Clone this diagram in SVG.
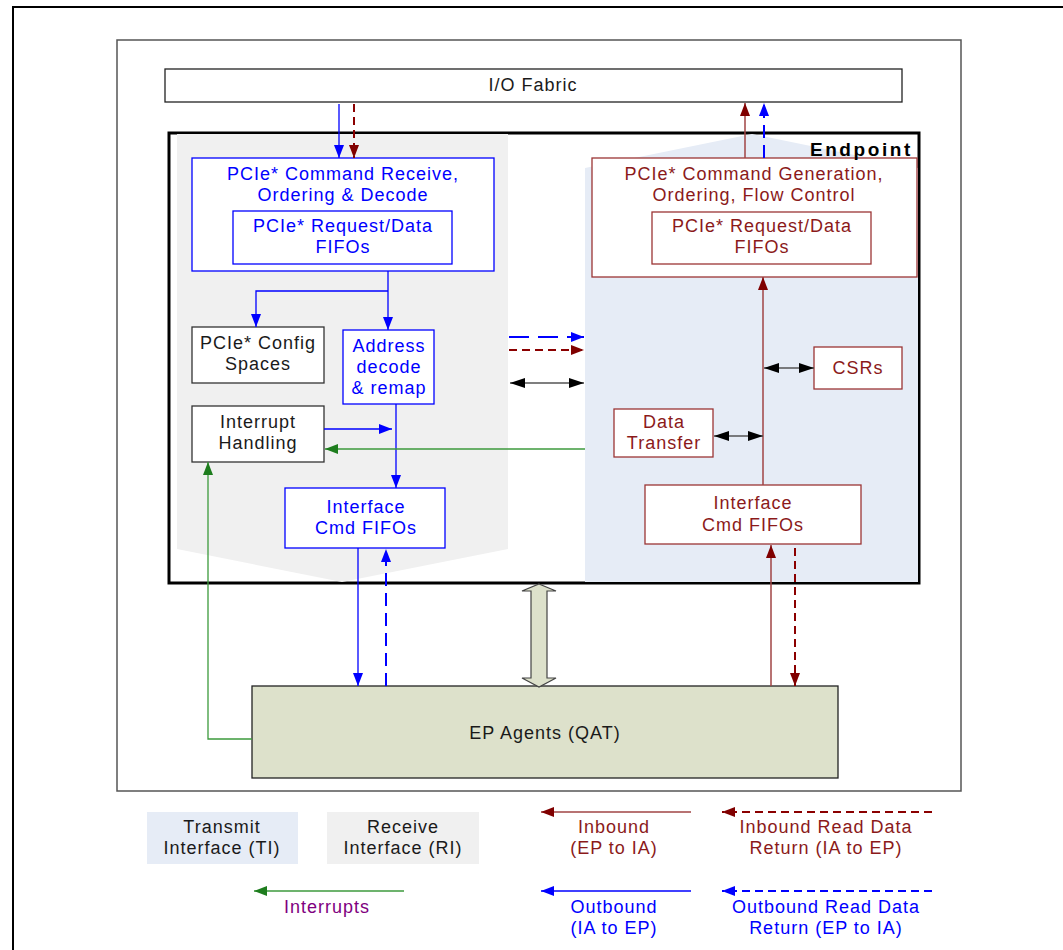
<svg xmlns="http://www.w3.org/2000/svg" width="1063" height="950" viewBox="0 0 1063 950">
<defs>
<style>
text{font-family:"Liberation Sans",Arial,sans-serif;font-size:18px;letter-spacing:1px;text-anchor:middle}
.tb{fill:#0000ff}.tr{fill:#8b1a1a}.tk{fill:#1a1a1a}.tp{fill:#800080}
.bb{fill:#fff;stroke:#0000ff;stroke-width:1.3}
.br{fill:#fff;stroke:#9b3535;stroke-width:1.3}
.bk{fill:#fff;stroke:#333;stroke-width:1.3}
.lb{fill:none;stroke:#0000ff;stroke-width:1.3}
.lbd{fill:none;stroke:#0000ff;stroke-width:2;stroke-dasharray:13 7}
.lr{fill:none;stroke:#a04545;stroke-width:1.5}
.lrd{fill:none;stroke:#8b0000;stroke-width:2;stroke-dasharray:8 5}
.lg{fill:none;stroke:#3c9a3c;stroke-width:1.3}
.lk{fill:none;stroke:#555;stroke-width:1.5}
</style>
<marker id="ab" markerUnits="userSpaceOnUse" markerWidth="13" markerHeight="10" refX="13" refY="5" orient="auto"><path d="M0,0L13,5L0,10z" fill="#0000ff"/></marker>
<marker id="ar" markerUnits="userSpaceOnUse" markerWidth="13" markerHeight="10" refX="13" refY="5" orient="auto"><path d="M0,0L13,5L0,10z" fill="#800000"/></marker>
<marker id="ag" markerUnits="userSpaceOnUse" markerWidth="13" markerHeight="10" refX="13" refY="5" orient="auto"><path d="M0,0L13,5L0,10z" fill="#1e7d1e"/></marker>
<marker id="ak" markerUnits="userSpaceOnUse" markerWidth="15" markerHeight="10" refX="15" refY="5" orient="auto-start-reverse"><path d="M0,0L15,5L0,10z" fill="#000"/></marker>
</defs>
<rect width="1063" height="950" fill="#fff"/>
<rect x="13" y="7" width="1070" height="960" fill="none" stroke="#000" stroke-width="2"/>
<rect x="117" y="40" width="844" height="751" fill="#fff" stroke="#555" stroke-width="1.5"/>

<g id="io-fabric"><rect x="165" y="69" width="737" height="33" fill="#fff" stroke="#222" stroke-width="1.3"/><text x="533" y="91" class="tk">I/O Fabric</text></g>

<g id="endpoint">
<rect x="169" y="133" width="750" height="450" fill="#fff" stroke="#000" stroke-width="3"/>
<polygon points="177,134 508,134 508,549 342,582 177,549" fill="#f0f0f0"/>
<polygon points="585,168 752,134 918,168 918,582 585,582" fill="#e6ecf6"/>
</g>

<g id="rx-cmd"><rect x="192" y="158" width="302" height="113" class="bb"/><text x="343" y="180" class="tb">PCIe* Command Receive,</text><text x="343" y="201" class="tb">Ordering &amp; Decode</text>
<rect x="233" y="211" width="219" height="53" class="bb"/><text x="343" y="232" class="tb">PCIe* Request/Data</text><text x="343" y="253" class="tb">FIFOs</text></g>

<g id="tx-cmd"><rect x="592" y="158" width="325" height="119" class="br"/><text x="754" y="180" class="tr">PCIe* Command Generation,</text><text x="754" y="201" class="tr">Ordering, Flow Control</text>
<rect x="652" y="212" width="219" height="52" class="br"/><text x="762" y="232" class="tr">PCIe* Request/Data</text><text x="762" y="253" class="tr">FIFOs</text></g>

<g id="endpoint-label"><text x="913" y="156" class="tk" style="text-anchor:end;font-weight:bold;font-size:19px;letter-spacing:2.6px;fill:#000">Endpoint</text></g>

<g id="config"><rect x="192" y="327" width="132" height="56" class="bk"/><text x="258" y="349" class="tk">PCIe* Config</text><text x="258" y="370" class="tk">Spaces</text></g>
<g id="addr"><rect x="343" y="330" width="91" height="74" class="bb"/><text x="389" y="352" class="tb">Address</text><text x="389" y="373" class="tb">decode</text><text x="389" y="394" class="tb">&amp; remap</text></g>
<g id="interrupt"><rect x="192" y="406" width="132" height="56" class="bk"/><text x="258" y="428" class="tk">Interrupt</text><text x="258" y="449" class="tk">Handling</text></g>
<g id="rx-fifo"><rect x="285" y="488" width="160" height="60" class="bb"/><text x="366" y="513" class="tb">Interface</text><text x="366" y="534" class="tb">Cmd FIFOs</text></g>
<g id="csrs"><rect x="814" y="347" width="88" height="42" class="br"/><text x="858" y="374" class="tr">CSRs</text></g>
<g id="data-transfer"><rect x="614" y="409" width="99" height="48" class="br"/><text x="664" y="428" class="tr">Data</text><text x="664" y="449" class="tr">Transfer</text></g>
<g id="tx-fifo"><rect x="645" y="485" width="216" height="59" class="br"/><text x="753" y="509" class="tr">Interface</text><text x="753" y="531" class="tr">Cmd FIFOs</text></g>
<g id="ep-agents"><rect x="252" y="686" width="586" height="92" fill="#dde1cb" stroke="#222" stroke-width="1.3"/><text x="545" y="739" class="tk">EP Agents (QAT)</text></g>

<g id="connectors">
<line x1="339" y1="104" x2="339" y2="158" class="lb" marker-end="url(#ab)"/>
<line x1="354" y1="104" x2="354" y2="158" class="lrd" marker-end="url(#ar)"/>
<line x1="745" y1="158" x2="745" y2="103" class="lr" marker-end="url(#ar)"/>
<line x1="764" y1="158" x2="764" y2="103" class="lbd" marker-end="url(#ab)"/>
<line x1="388" y1="271" x2="388" y2="330" class="lb" marker-end="url(#ab)"/>
<polyline points="388,291 256,291 256,327" class="lb" marker-end="url(#ab)"/>
<line x1="324" y1="429" x2="392" y2="429" class="lb" marker-end="url(#ab)"/>
<line x1="396" y1="404" x2="396" y2="488" class="lb" marker-end="url(#ab)"/>
<line x1="585" y1="449" x2="325" y2="449" class="lg" marker-end="url(#ag)"/>
<polyline points="252,739 208,739 208,462" class="lg" marker-end="url(#ag)"/>
<line x1="358" y1="548" x2="358" y2="686" class="lb" marker-end="url(#ab)"/>
<line x1="386" y1="686" x2="386" y2="549" class="lbd" marker-end="url(#ab)"/>
<line x1="771" y1="686" x2="771" y2="545" class="lr" marker-end="url(#ar)"/>
<line x1="795" y1="548" x2="795" y2="686" class="lrd" marker-end="url(#ar)"/>
<line x1="763" y1="485" x2="763" y2="277" class="lr" marker-end="url(#ar)"/>
<line x1="764" y1="368" x2="814" y2="368" class="lk" marker-start="url(#ak)" marker-end="url(#ak)"/>
<line x1="714" y1="436" x2="763" y2="436" class="lk" marker-start="url(#ak)" marker-end="url(#ak)"/>
<line x1="509" y1="337" x2="584" y2="337" class="lb" style="stroke-width:2;stroke-dasharray:20 9" marker-end="url(#ab)"/>
<line x1="509" y1="350" x2="584" y2="350" class="lrd" marker-end="url(#ar)"/>
<line x1="510" y1="383" x2="584" y2="383" class="lk" marker-start="url(#ak)" marker-end="url(#ak)"/>
<polygon points="539,584 556,591 547,591 547,678 556,678 539,687 522,678 531,678 531,591 522,591" fill="#dde1cb" stroke="#444" stroke-width="1.2"/>
</g>

<g id="legend">
<rect x="147" y="812" width="151" height="52" fill="#e6ecf6"/>
<text x="222" y="833" class="tk">Transmit</text><text x="222" y="854" class="tk">Interface (TI)</text>
<rect x="327" y="812" width="152" height="52" fill="#f0f0f0"/>
<text x="403" y="833" class="tk">Receive</text><text x="403" y="854" class="tk">Interface (RI)</text>
<line x1="691" y1="812" x2="541" y2="812" class="lr" marker-end="url(#ar)"/>
<text x="614" y="833" class="tr">Inbound</text><text x="614" y="854" class="tr">(EP to IA)</text>
<line x1="932" y1="812" x2="722" y2="812" class="lrd" marker-end="url(#ar)"/>
<text x="826" y="833" class="tr">Inbound Read Data</text><text x="826" y="854" class="tr">Return (IA to EP)</text>
<line x1="404" y1="891" x2="254" y2="891" class="lg" marker-end="url(#ag)"/>
<text x="327" y="913" class="tp">Interrupts</text>
<line x1="691" y1="891" x2="541" y2="891" class="lb" marker-end="url(#ab)"/>
<text x="614" y="913" class="tb">Outbound</text><text x="614" y="934" class="tb">(IA to EP)</text>
<line x1="932" y1="891" x2="722" y2="891" class="lbd" style="stroke-dasharray:8 5" marker-end="url(#ab)"/>
<text x="826" y="913" class="tb">Outbound Read Data</text><text x="826" y="934" class="tb">Return (EP to IA)</text>
</g>
</svg>
